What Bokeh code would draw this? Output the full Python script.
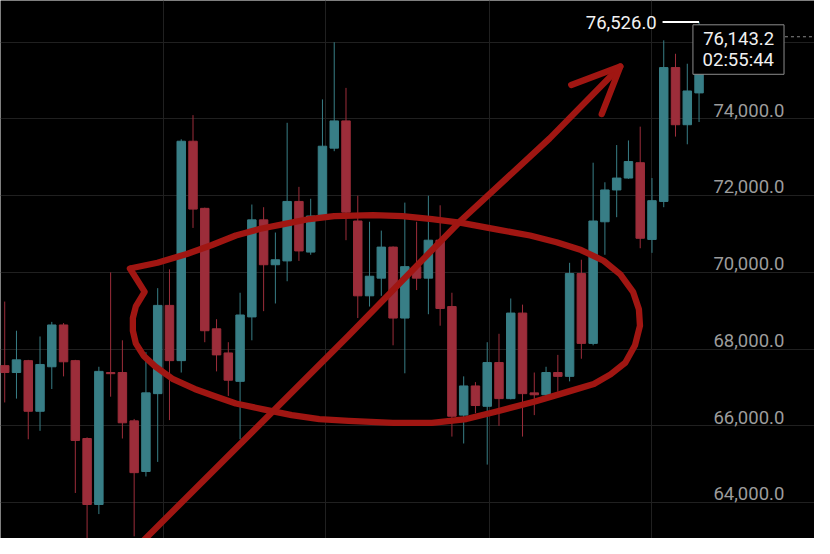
from bokeh.plotting import figure
from bokeh.models import Range1d, FixedTicker, ColumnDataSource
from bokeh.core.properties import value
from bokeh.embed import file_html
from bokeh.resources import INLINE

# ---- candle data (index 0..59) ----
opens = [67570, 67390, 67700, 66380, 67540, 68630, 67700, 65670, 63950, 67390,
         67390, 66130, 64810, 66840, 69140, 67700, 73420, 71670, 68530, 67900,
         67160, 68840, 71370, 70200, 70300, 71850, 70530, 71490, 73240, 73950,
         71340, 69390, 69850, 70660, 68810, 70150, 69850, 70840, 69110, 66280,
         67040, 66510, 67650, 66710, 68940, 66860, 66810, 67390, 67290, 69970,
         68150, 71320, 72150, 72460, 72860, 70860, 71850, 75340, 73850, 74680]
closes = [67390, 67720, 66380, 67600, 68630, 67670, 65620, 63950, 67420, 67360,
          66080, 64780, 66860, 69140, 67700, 73420, 71650, 68480, 67850, 67190,
          68890, 71370, 70200, 70330, 71850, 70560, 71470, 73290, 73950, 71570,
          69390, 69900, 70660, 68810, 70150, 69850, 70840, 69060, 66250, 67040,
          66530, 67650, 66710, 68940, 66840, 66810, 67390, 67290, 69970, 68150,
          71340, 72150, 72460, 72890, 70890, 71870, 75340, 73850, 74730, 76143.2]
highs = [69240, 68480, 67720, 68330, 68710, 68680, 67720, 65700, 67540, 70000,
         68230, 66180, 67920, 69590, 70080, 73470, 74100, 71690, 68780, 68180,
         69470, 71770, 71700, 71040, 73900, 72230, 71920, 74510, 76000, 74810,
         72000, 71320, 71090, 70680, 71820, 71320, 72000, 71750, 69470, 67290,
         67140, 68180, 68400, 69320, 69160, 67390, 67540, 67850, 70250, 70330,
         72860, 72350, 73320, 73440, 73800, 72460, 76050, 75700, 75440, 76526]
lows = [66610, 66710, 65650, 65870, 66960, 67290, 64250, 62950, 63700, 66760,
        65670, 63120, 64680, 65060, 66150, 67390, 71160, 68180, 67420, 66780,
        65650, 68230, 68990, 69190, 69770, 70300, 70460, 71470, 73160, 70840,
        68810, 69110, 69390, 68100, 67370, 69540, 68910, 68610, 65720, 65540,
        66330, 64990, 66000, 66690, 65720, 66280, 66780, 66890, 67160, 67750,
        68100, 70460, 71440, 72440, 70630, 70510, 71700, 73540, 73340, 73920]

price_ticks = [64000, 66000, 68000, 70000, 72000, 74000, 76000]
price_labels = ["64,000.0", "66,000.0", "68,000.0", "70,000.0", "72,000.0", "74,000.0", "76,000.0"]
time_grid = [13.53, 27.28, 41.17, 55.0]

last_price = 76143.2
last_price_text = "76,143.2"
countdown_text = "02:55:44"
max_high = 76526
max_high_text = "76,526.0"

# hand-drawn annotations (candle index, price)
ellipse_x = [10.64, 11.89, 11.14, 10.89, 10.89, 11.14, 11.81, 12.81, 14.31, 16.14,
             17.98, 19.64, 21.98, 24.39, 26.73, 29.23, 32.98, 36.31, 39.23, 41.89,
             45.06, 47.81, 50.06, 51.48, 52.73, 53.56, 53.98, 53.89, 53.39, 52.31,
             50.89, 48.98, 46.89, 44.64, 41.89, 38.81, 36.31, 33.81, 31.31, 27.98,
             25.89, 23.81, 21.73, 19.64, 17.56, 15.48, 12.98, 10.64]
ellipse_y = [70101, 69494, 69114, 68810, 68481, 68152, 67823, 67544, 67215, 66962,
             66760, 66582, 66430, 66279, 66177, 66127, 66076, 66076, 66177, 66380,
             66633, 66886, 67089, 67342, 67646, 68101, 68608, 69038, 69494, 69949,
             70304, 70582, 70785, 70962, 71114, 71291, 71392, 71468, 71494, 71468,
             71392, 71266, 71139, 70962, 70709, 70481, 70253, 70101]
arrow_x = [11.31, 29.23, 38.81, 46.31, 52.31]
arrow_y = [62861, 68354, 71367, 73494, 75367]
head_x = [48.14, 52.31, 50.73]
head_y = [74886, 75367, 74127]

TEAL = "#387e86"
RED = "#9c2d3a"
INK = "#a01612"
BG = "#000000"
GRID = "#202020"
FONT = value("Roboto")

n = len(opens)
xs = list(range(n))
colors = [TEAL if c >= o else RED for o, c in zip(opens, closes)]
src = ColumnDataSource(dict(
    x=xs,
    top=[max(o, c) for o, c in zip(opens, closes)],
    bottom=[min(o, c) for o, c in zip(opens, closes)],
    high=highs, low=lows, color=colors))

p = figure(width=814, height=538, x_range=Range1d(-0.358, 68.81),
           y_range=Range1d(63063.3, 77088.6), output_backend="svg",
           toolbar_location=None, min_border=0, x_axis_location=None,
           y_axis_location=None, background_fill_color=BG,
           border_fill_color=BG, outline_line_color=None)

p.xgrid.ticker = FixedTicker(ticks=time_grid)
p.xgrid.grid_line_color = GRID
p.ygrid.ticker = FixedTicker(ticks=price_ticks)
p.ygrid.grid_line_color = GRID

p.segment(x0="x", y0="high", x1="x", y1="low", line_color="color",
          line_width=1, source=src)
p.vbar(x="x", width=0.72, top="top", bottom="bottom", fill_color="color",
       line_color="color", line_width=1, source=src)

# price scale labels
lab_x = 60.22
p.text(x=[lab_x] * len(price_ticks), y=price_ticks, text=price_labels,
       text_font=FONT, text_font_size="18.5px", text_color="#9c9c9c",
       text_align="left", text_baseline="alphabetic", y_offset=-8.8)

# highest price marker
last = n - 1
p.line(x=[last - 3.1, last], y=[max_high, max_high], line_color="#ffffff", line_width=2)
p.text(x=[last - 3.6], y=[max_high], text=[max_high_text], text_font=FONT,
       text_font_size="18.5px", text_color="#f2f2f2", text_align="right",
       text_baseline="middle")

# current price dashed line and box
p.line(x=[66.3, 68.9], y=[last_price, last_price], line_color="#8a8a8a",
       line_width=1, line_dash="3 3")
p.quad(left=[58.48], right=[66.22], top=[76455], bottom=[75165],
       fill_color=BG, line_color="#8c8c8c", line_width=1)
p.text(x=[59.35, 59.3], y=[last_price, last_price], text=[last_price_text, countdown_text],
       text_font=FONT, text_font_size="18.5px", text_color="#f0f0f0",
       text_align="left", text_baseline="middle", y_offset=[2, 23])

# annotations
for ax, ay in ((ellipse_x, ellipse_y), (arrow_x, arrow_y), (head_x, head_y)):
    p.line(x=ax, y=ay, line_color=INK, line_width=6.3,
           line_join="round", line_cap="round")

html = file_html(p, INLINE)
html = html.replace("<body>", '<body style="background-color:#000000;">', 1)
open("out.html", "w").write(html)
